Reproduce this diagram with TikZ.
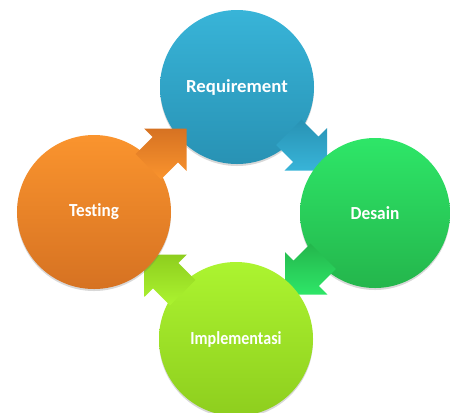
\documentclass[tikz,border=0pt]{standalone}
\usepackage{fontspec}
\setmainfont{Carlito}[RawFeature={-liga}]
\usetikzlibrary{calc,shadows}
\definecolor{bluetop}{RGB}{56,180,216}
\definecolor{bluebot}{RGB}{40,146,180}
\definecolor{greentop}{RGB}{46,230,104}
\definecolor{greenbot}{RGB}{36,182,76}
\definecolor{limetop}{RGB}{172,244,48}
\definecolor{limebot}{RGB}{142,206,30}
\definecolor{orangetop}{RGB}{250,148,46}
\definecolor{orangebot}{RGB}{214,114,34}
\tikzset{
  phase/.style={circle, minimum size=154bp, inner sep=0pt, text=white,
    font=\fontsize{18.5}{20}\selectfont\bfseries,
    drop shadow={shadow xshift=0bp, shadow yshift=-2bp, opacity=0.25, fill=black!60}},
}
\newcommand{\blockarr}[4]{%
  \begin{scope}[shift={(#1)}, rotate=#2]
    \shade[left color=#4, right color=#3, shading angle=0]
      (-25,-18) -- (-1,-18) -- (-1,-30) -- (29,0) -- (-1,30) -- (-1,18) -- (-25,18) -- cycle;
  \end{scope}}
\begin{document}
\begin{tikzpicture}[x=1bp, y=-1bp]
\clip (0,0) rectangle (450,412);
\fill[white] (0,0) rectangle (450,412);
% Requirement
\node[phase, top color=bluetop, bottom color=bluebot] (req) at (237,87) {\scalebox{1.02}[1]{Requirement}};
\coordinate (m1) at (306.5,150);
\blockarr{m1}{-45}{bluetop}{bluebot}
% Desain
\node[phase, minimum size=150bp, top color=greentop, bottom color=greenbot] (des) at (375,213) {\scalebox{0.94}[1]{Desain}};
\coordinate (m2) at (305.5,274);
\blockarr{m2}{-135}{greentop}{greenbot}
% Implementasi
\node[phase, top color=limetop, bottom color=limebot] (imp) at (236,339) {\scalebox{0.87}[1]{Implementasi}};
\coordinate (m3) at (165,275);
\blockarr{m3}{135}{limetop}{limebot}
% Testing
\node[phase, top color=orangetop, bottom color=orangebot] (tes) at (94,212) {\scalebox{0.93}[1]{Testing}};
\coordinate (m4) at (166,149);
\blockarr{m4}{45}{orangetop}{orangebot}
\end{tikzpicture}
\end{document}
